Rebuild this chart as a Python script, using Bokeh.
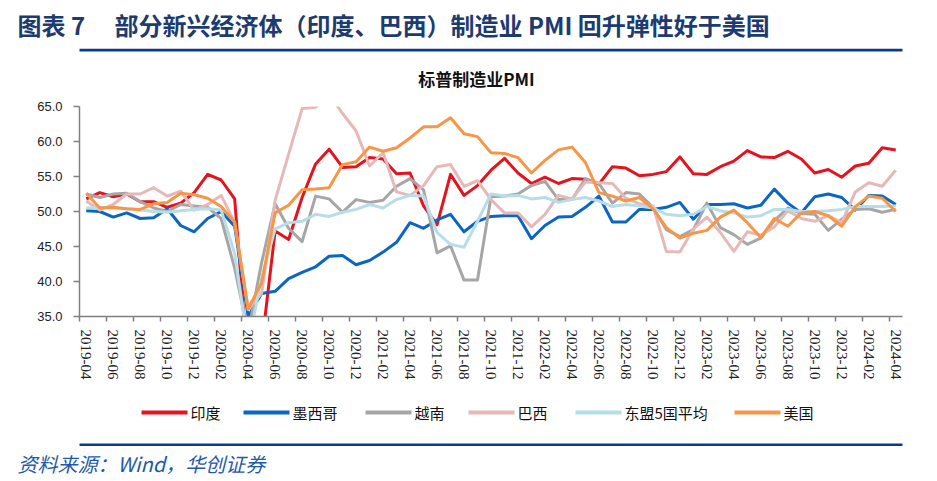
from bokeh.plotting import figure
from bokeh.models import Range1d, FixedTicker, PrintfTickFormatter
from bokeh.layouts import column
from bokeh.embed import file_html
from bokeh.resources import INLINE
from bokeh.core.properties import value

# ---------------- data ----------------
months = ["2019-04", "2019-05", "2019-06", "2019-07", "2019-08", "2019-09", "2019-10", "2019-11", "2019-12",
          "2020-01", "2020-02", "2020-03", "2020-04", "2020-05", "2020-06", "2020-07", "2020-08", "2020-09",
          "2020-10", "2020-11", "2020-12", "2021-01", "2021-02", "2021-03", "2021-04", "2021-05", "2021-06",
          "2021-07", "2021-08", "2021-09", "2021-10", "2021-11", "2021-12", "2022-01", "2022-02", "2022-03",
          "2022-04", "2022-05", "2022-06", "2022-07", "2022-08", "2022-09", "2022-10", "2022-11", "2022-12",
          "2023-01", "2023-02", "2023-03", "2023-04", "2023-05", "2023-06", "2023-07", "2023-08", "2023-09",
          "2023-10", "2023-11", "2023-12", "2024-01", "2024-02", "2024-03", "2024-04"]

india = [51.8, 52.7, 52.1, 52.5, 51.4, 51.4, 50.6, 51.2, 52.7,
         55.3, 54.5, 51.8, 27.4, 30.8, 47.2, 46.0, 52.0, 56.8, 58.9, 56.3, 56.4,
         57.7, 57.5, 55.4, 55.5, 50.8, 48.1, 55.3, 52.3, 53.7, 55.9, 57.6, 55.5,
         54.0, 54.9, 54.0, 54.7, 54.6, 53.9, 56.4, 56.2, 55.1, 55.3, 55.7, 57.8,
         55.4, 55.3, 56.4, 57.2, 58.7, 57.8, 57.7, 58.6, 57.5, 55.5, 56.0, 54.9,
         56.5, 56.9, 59.1, 58.8]
mexico = [50.1, 50.0, 49.2, 49.8, 49.0, 49.1, 50.4, 48.0, 47.1,
          49.0, 50.0, 47.9, 35.0, 38.3, 38.6, 40.4, 41.3, 42.1, 43.6, 43.7, 42.4,
          43.0, 44.2, 45.6, 48.4, 47.6, 48.8, 49.6, 47.1, 48.6, 49.3, 49.4, 49.4,
          46.1, 48.0, 49.2, 49.3, 50.6, 52.2, 48.5, 48.5, 50.3, 50.3, 50.6, 51.3,
          48.9, 51.0, 51.0, 51.1, 50.5, 50.9, 53.2, 51.2, 49.8, 52.1, 52.5, 52.0,
          50.2, 52.3, 52.2, 51.0]
vietnam = [52.5, 52.0, 52.5, 52.6, 51.4, 50.5, 50.0, 51.0, 50.8,
           50.6, 49.0, 41.9, 32.7, 42.7, 51.1, 47.6, 45.7, 52.2, 51.8, 49.9, 51.7,
           51.3, 51.6, 53.6, 54.7, 53.1, 44.1, 45.1, 40.2, 40.2, 52.1, 52.2, 52.5,
           53.7, 54.3, 51.7, 51.7, 54.7, 54.0, 51.2, 52.7, 52.5, 50.6, 47.4, 46.4,
           47.4, 51.2, 47.7, 46.7, 45.3, 46.2, 48.7, 50.5, 49.7, 49.6, 47.3, 48.9,
           50.3, 50.4, 49.9, 50.3]
brazil = [51.5, 50.2, 51.0, 52.5, 52.5, 53.4, 52.2, 52.9, 50.2,
          51.0, 52.3, 48.4, 36.0, 38.3, 51.6, 58.2, 64.7, 64.9, 66.7, 64.0, 61.5,
          56.5, 58.4, 52.8, 52.3, 53.7, 56.4, 56.7, 53.6, 54.4, 51.7, 49.8, 49.8,
          47.8, 49.6, 52.3, 51.8, 54.2, 54.1, 54.0, 51.9, 51.1, 50.8, 44.3, 44.2,
          47.5, 49.2, 47.0, 44.3, 47.1, 46.6, 47.8, 50.1, 49.0, 48.6, 49.4, 48.4,
          52.8, 54.1, 53.6, 55.9]
asean5 = [50.5, 50.6, 50.5, 50.4, 50.2, 50.0, 49.9, 50.1, 50.3,
          50.4, 50.2, 44.0, 31.0, 40.5, 47.5, 48.4, 48.6, 49.6, 49.3, 49.9, 50.3,
          51.0, 50.5, 51.7, 52.3, 52.2, 47.0, 45.3, 44.9, 48.6, 52.5, 52.2, 52.3,
          51.8, 52.0, 51.3, 51.7, 52.0, 51.5, 50.7, 51.0, 50.8, 50.5, 49.6, 49.4,
          49.6, 50.7, 50.1, 49.8, 49.2, 49.4, 50.3, 50.3, 50.0, 50.0, 50.1, 50.3,
          50.7, 50.7, 50.7, 50.8]
usa = [52.6, 50.5, 50.6, 50.4, 50.3, 51.1, 51.3, 52.6, 52.4,
       51.9, 50.7, 48.5, 36.1, 39.8, 49.8, 50.9, 53.1, 53.2, 53.4, 56.7, 57.1,
       59.2, 58.6, 59.1, 60.5, 62.1, 62.1, 63.4, 61.1, 60.7, 58.4, 58.3, 57.7,
       55.5, 57.3, 58.8, 59.2, 57.0, 52.7, 52.2, 51.5, 52.0, 50.4, 47.7, 46.2,
       46.9, 47.3, 49.2, 50.2, 48.4, 46.3, 49.0, 47.9, 49.8, 50.0, 49.4, 47.9,
       50.7, 52.2, 51.9, 50.0]

series_names = ["印度", "墨西哥", "越南", "巴西", "东盟5国平均", "美国"]
series_values = [india, mexico, vietnam, brazil, asean5, usa]
series_colors = ["#E5131E", "#0A66C2", "#A6A6A6", "#E6B9B8", "#B7DEE8", "#F79646"]

y_ticks = [35, 40, 45, 50, 55, 60, 65]
x_label_every = 2

fig_title = "图表 7\u3000 部分新兴经济体（印度、巴西）制造业 PMI 回升弹性好于美国"
chart_title = "标普制造业PMI"
source_text = "资料来源：Wind，华创证券"

CJK = "Noto Sans CJK SC"
NAVY = "#1C3B70"
RULE = "#0B3C86"
W = 937
BL, BR = 79, 35            # identical side borders for every stacked figure
FX0, FX1 = BL, W - BR      # frame span in page pixels


def blank(height, y_top, fill="white", width=W):
    f = figure(width=width, height=height, x_axis_type=None, y_axis_type=None,
               x_range=Range1d(FX0, FX1), y_range=Range1d(y_top + height, y_top),
               toolbar_location=None, output_backend="svg",
               min_border_left=BL, min_border_right=BR, min_border_top=0, min_border_bottom=0)
    f.outline_line_color = None
    f.grid.visible = False
    f.border_fill_color = fill
    f.background_fill_color = fill
    return f


# ---------------- header ----------------
head = blank(48, 0)
head.title.text = fig_title
head.title.align = "left"
head.title.offset = 17 - BL
head.title.vertical_align = "middle"
head.title.text_font = CJK
head.title.text_font_size = "24px"
head.title.text_font_style = "bold"
head.title.text_color = NAVY
head.title.standoff = 12

# chart-title strip, with the top rule drawn across its upper edge
ctitle = blank(50, 48)
ctitle.quad(left=[FX0 - 100], right=[FX1 + 100], top=[48], bottom=[51],
            fill_color=RULE, line_color=None)
ctitle.text(x=[476], y=[78], text=[chart_title], text_font=value(CJK), text_font_style="bold",
            text_font_size="17px", text_color="#111111", text_align="center",
            text_baseline="middle")

# ---------------- main chart ----------------
n = len(months)
xs = list(range(n))
p = figure(width=W, height=294, x_range=Range1d(-0.5, n - 0.5), y_range=Range1d(35, 65),
           min_border_left=BL, min_border_right=BR, min_border_top=8, min_border_bottom=76,
           toolbar_location=None, output_backend="svg")
p.outline_line_color = None
p.grid.visible = False

for vals, col in zip(series_values, series_colors):
    p.line(xs, vals, line_color=col, line_width=3, line_join="round")

major = list(range(0, n, x_label_every))
p.xaxis.ticker = FixedTicker(ticks=major, minor_ticks=[t - 0.5 for t in major])
p.xaxis.major_label_overrides = {t: months[t] for t in major}
p.xaxis.major_tick_out = 0
p.xaxis.major_tick_in = 0
p.xaxis.minor_tick_out = 5
p.xaxis.minor_tick_in = 0
p.xaxis.major_label_orientation = "vertical"
p.xaxis.major_label_standoff = 8
p.xaxis.major_label_text_font = "Liberation Serif"
p.xaxis.major_label_text_font_size = "15px"
p.xaxis.major_label_text_color = "#222222"

p.yaxis.ticker = FixedTicker(ticks=y_ticks)
p.yaxis.formatter = PrintfTickFormatter(format="%.1f")
p.yaxis.major_tick_out = 6
p.yaxis.major_tick_in = 0
p.yaxis.minor_tick_out = 0
p.yaxis.minor_tick_in = 0
p.yaxis.major_label_standoff = 11
p.yaxis.major_label_text_font = "Liberation Sans"
p.yaxis.major_label_text_font_size = "13px"
p.yaxis.major_label_text_color = "#222222"

for ax in (p.xaxis, p.yaxis):
    ax.axis_line_color = "#808080"
    ax.axis_line_width = 1.5
    ax.major_tick_line_color = "#808080"
    ax.minor_tick_line_color = "#808080"
    ax.major_tick_line_width = 1.5
    ax.minor_tick_line_width = 1.5

# ---------------- legend strip + bottom rule ----------------
leg = blank(54, 392)
legend_x = [141, 243, 365, 468, 575, 734]   # left end of each legend swatch (page px)
swatch = 46
leg_y = 412
leg.segment(x0=legend_x, y0=[leg_y] * len(legend_x),
            x1=[x + swatch for x in legend_x], y1=[leg_y] * len(legend_x),
            line_color=series_colors, line_width=4)
leg.text(x=[x + swatch + 3 for x in legend_x], y=[leg_y] * len(legend_x), text=series_names,
         text_font=value(CJK), text_font_size="15px", text_color="#111111",
         text_align="left", text_baseline="middle")
leg.quad(left=[FX0 - 100], right=[FX1 + 100], top=[443], bottom=[446],
         fill_color=RULE, line_color=None)

# ---------------- footer ----------------
foot = blank(35, 446)
foot.title.text = source_text
foot.title.align = "left"
foot.title.offset = 17 - BL
foot.title.vertical_align = "middle"
foot.title.text_font = CJK
foot.title.text_font_size = "20px"
foot.title.text_font_style = "italic"
foot.title.text_color = "#1E5AA8"
foot.title.standoff = 6

layout = column(head, ctitle, p, leg, foot, spacing=0)
open("out.html", "w").write(file_html(layout, INLINE))
